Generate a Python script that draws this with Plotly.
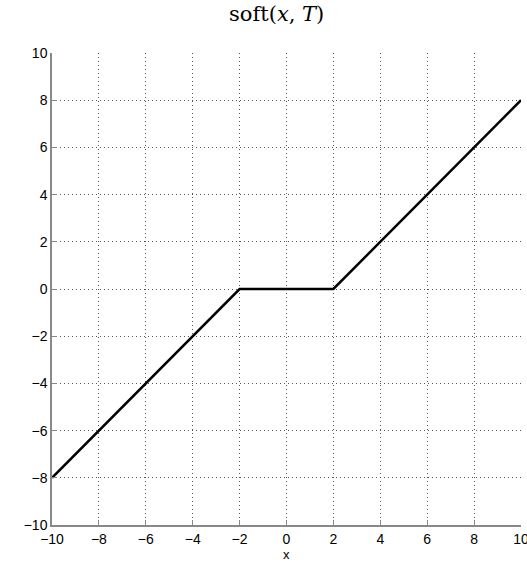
import plotly.graph_objects as go

x_vals = [-10, -2, 2, 10]
y_vals = [-8, 0, 0, 8]
tick_vals = [-10, -8, -6, -4, -2, 0, 2, 4, 6, 8, 10]

fig = go.Figure()
fig.add_trace(go.Scatter(x=x_vals, y=y_vals, mode="lines",
                         line=dict(color="black", width=2.5), showlegend=False))

axis_common = dict(
    range=[-10, 10], tickvals=tick_vals, showgrid=True, gridcolor="#555555",
    griddash="1px,3px", gridwidth=1, zeroline=False, showline=True,
    linecolor="#888888", linewidth=1.5, ticks="inside", ticklen=5,
    tickcolor="#888888", ticklabeloverflow="allow", automargin=False,
    tickfont=dict(family="Liberation Sans, Arial", size=14, color="black"),
)

fig.update_layout(
    width=527, height=562,
    margin=dict(l=52, r=6, t=53, b=37),
    paper_bgcolor="white", plot_bgcolor="white",
    title=dict(text="soft(<i>x</i>, <i>T</i>)", x=0.525, xanchor="center", y=0.975, yanchor="middle",
               font=dict(family="DejaVu Serif, Liberation Serif", size=21, color="black")),
    xaxis=dict(**axis_common),
    yaxis=dict(**axis_common),
    annotations=[dict(text="x", xref="x", x=0, yref="paper", y=0, yshift=-29,
                      yanchor="middle", showarrow=False,
                      font=dict(family="Liberation Sans, Arial", size=13, color="black"))],
)
fig.write_html("out.html", config={"displayModeBar": False},
               post_script="document.body.style.margin='0';document.body.style.overflow='hidden';")
